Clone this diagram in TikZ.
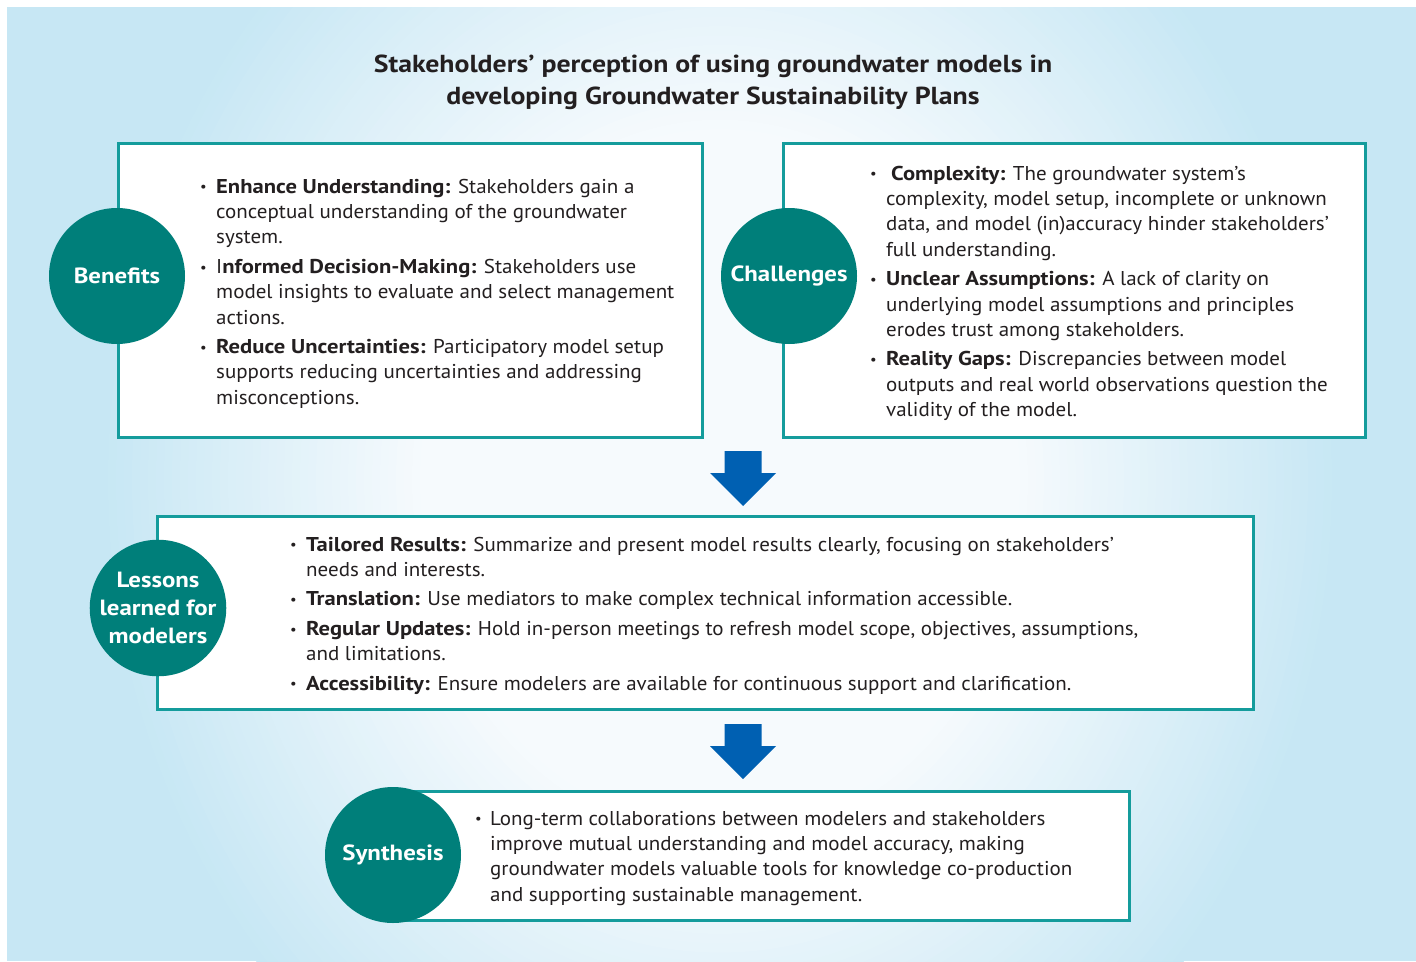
\documentclass[tikz,border=0pt]{standalone}
\usepackage{graphicx}
\usepackage{fontspec}
\setmainfont{PT Sans}[UprightFeatures={FakeStretch=1.05}, BoldFeatures={FakeStretch=1.13}]
\usetikzlibrary{positioning}

\definecolor{bgblue}{HTML}{C7E7F4}
\definecolor{glowwhite}{HTML}{F6FAFD}
\definecolor{tealcircle}{HTML}{007F7A}
\definecolor{tealline}{HTML}{149C9C}
\definecolor{arrowblue}{HTML}{0060B2}
\definecolor{inktext}{HTML}{231F20}

\newcommand{\dotmark}{\raisebox{1.2pt}{\scalebox{0.7}{\textbullet}}}

\tikzset{
  panel/.style={draw=tealline, line width=3pt, fill=white, inner sep=0pt},
  badge/.style={circle, fill=tealcircle, text=white, minimum size=136pt, inner sep=0pt,
    align=center, font=\fontsize{22}{28}\selectfont\bfseries},
  bullets/.style={anchor=base west, inner sep=0pt, text=inktext, font=\fontsize{20}{25.4}\selectfont},
  blockdown/.pic={
    \fill[arrowblue] (-18.5,0) -- (18.5,0) -- (18.5,22) -- (33,22) -- (0,55) -- (-33,22) -- (-18.5,22) -- cycle;
  }
}

\begin{document}
\begin{tikzpicture}[x=1pt, y=-1pt]
    \useasboundingbox (0,0) rectangle (1416,961);
    % background glow
    \begin{scope}
        \clip (7,7) rectangle (1416,961);
        \fill[bgblue] (7,7) rectangle (1416,961);
        \foreach \i in {0,...,40} {
            \pgfmathsetmacro\r{620-8*\i}
            \pgfmathsetmacro\p{100-2.5*\i}
            \fill[bgblue!\p!glowwhite] (720,480) ellipse [x radius=\r, y radius=1.17*\r];
        }
    \end{scope}

    \node[text=inktext, align=center, font=\fontsize{24.6}{32}\selectfont\bfseries] (heading) at (713,82)
        {Stakeholders’ perception of using groundwater models in\\developing Groundwater Sustainability Plans};

    % boxes
    \node[panel, minimum width=584pt, minimum height=294pt] (benefitsbox) at (410,290) {};
    \node[panel, minimum width=582pt, minimum height=294pt] (challengesbox) at (1074,290) {};
    \node[panel, minimum width=1096pt, minimum height=193pt] (lessonsbox) at (705,612.5) {};
    \node[panel, minimum width=736pt, minimum height=129pt] (synthesisbox) at (761,855.5) {};

    % circles
    \node[badge] (benefits) at (117,276) {Benefits};
    \node[badge] (challenges) at (789,276) {Challenges};
    \node[badge] (lessons) at (158,608) {Lessons\\learned for\\modelers};
    \node[badge] (synthesis) at (393,855) {Synthesis};

    % arrows
    \pic at (743,451) {blockdown};
    \pic at (743,724) {blockdown};

    % texts
    \node[bullets] (benefitstext) at (200,193) {\begin{tabular}[t]{@{}p{16pt}@{}l@{}}
        \dotmark & \textbf{Enhance Understanding:} Stakeholders gain a\\
        & conceptual understanding of the groundwater\\
        & system.\\[4pt]
        \dotmark & I\textbf{nformed Decision-Making:} Stakeholders use\\
        & model insights to evaluate and select management\\
        & actions.\\[4pt]
        \dotmark & \textbf{Reduce Uncertainties:} Participatory model setup\\
        & supports reducing uncertainties and addressing\\
        & misconceptions.
    \end{tabular}};
    \node[bullets] (challengestext) at (870,180) {\begin{tabular}[t]{@{}p{16pt}@{}l@{}}
        \dotmark & \hspace{5pt}\textbf{Complexity:} The groundwater system’s\\
        & complexity, model setup, incomplete or unknown\\
        & data, and model (in)accuracy hinder stakeholders’\\
        & full understanding.\\[4pt]
        \dotmark & \textbf{Unclear Assumptions:} A lack of clarity on\\
        & underlying model assumptions and principles\\
        & erodes trust among stakeholders.\\[4pt]
        \dotmark & \textbf{Reality Gaps:} Discrepancies between model\\
        & outputs and real world observations question the\\
        & validity of the model.
    \end{tabular}};
    \node[bullets] (lessonstext) at (290,551) {\begin{tabular}[t]{@{}p{16pt}@{}l@{}}
        \dotmark & \textbf{Tailored Results:} Summarize and present model results clearly, focusing on stakeholders’\\
        & needs and interests.\\[4pt]
        \dotmark & \textbf{Translation:} Use mediators to make complex technical information accessible.\\[4pt]
        \dotmark & \textbf{Regular Updates:} Hold in-person meetings to refresh model scope, objectives, assumptions,\\
        & and limitations.\\[4pt]
        \dotmark & \textbf{Accessibility:} Ensure modelers are available for continuous support and clarification.
    \end{tabular}};
    \node[bullets] (synthesistext) at (475,825) {\begin{tabular}[t]{@{}p{15pt}@{}l@{}}
        \dotmark & Long-term collaborations between modelers and stakeholders\\
        & improve mutual understanding and model accuracy, making\\
        & groundwater models valuable tools for knowledge co-production\\
        & and supporting sustainable management.
    \end{tabular}};
\end{tikzpicture}
\end{document}
